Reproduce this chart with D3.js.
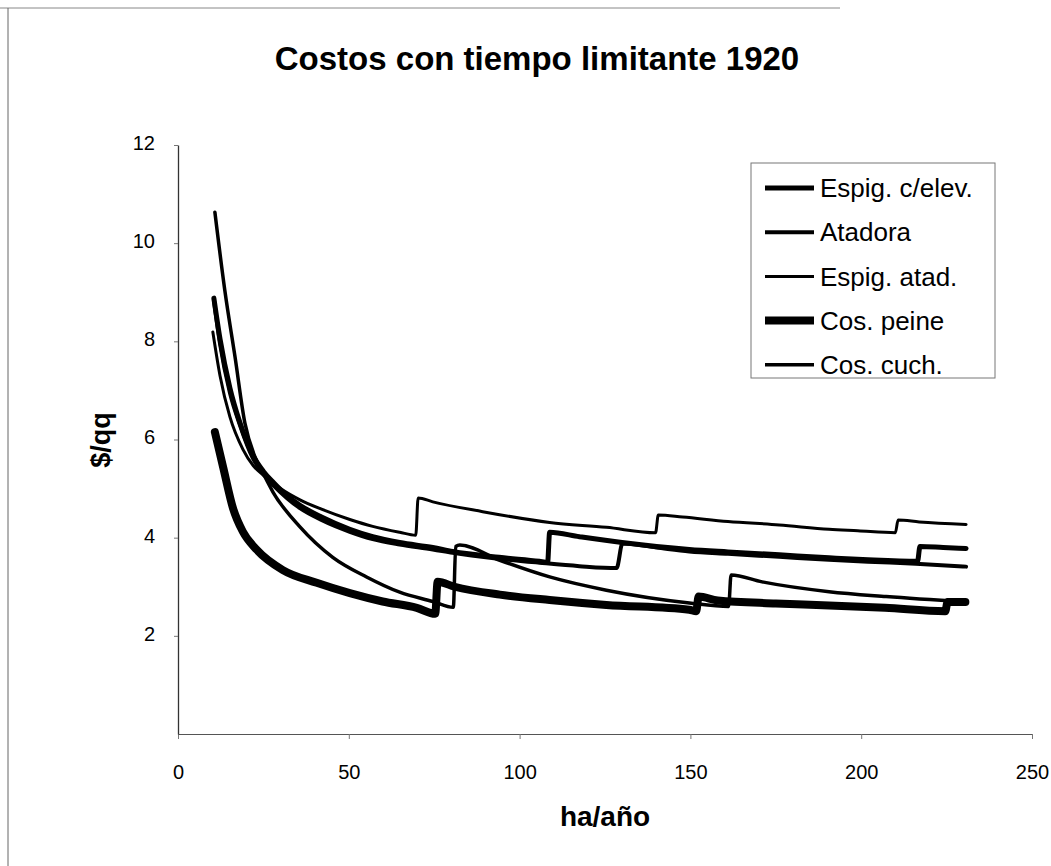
<!DOCTYPE html>
<html>
<head>
<meta charset="utf-8">
<script src="https://cdn.jsdelivr.net/npm/d3@7"></script>
<style>
  body { margin: 0; background: #fff; }
  text { font-family: "Liberation Sans", Arial, sans-serif; fill: #000; }
</style>
</head>
<body>
<script>
// values: [ha/año, $/qq]
const espigElev = [[10.5, 8.88], [12.3, 8.05], [15.2, 7.05], [18.1, 6.35], [21.9, 5.68], [25, 5.35], [28, 5.12],
  [32, 4.85], [35.7, 4.66], [42, 4.42], [50.3, 4.17], [57, 4.02], [64.9, 3.9], [74.6, 3.8], [80.4, 3.72],
  [94, 3.6], [105.8, 3.52], [108.2, 3.5], [108.8, 4.11], [117.5, 4.02], [130, 3.9], [149.7, 3.76], [161, 3.71],
  [176, 3.65], [190.6, 3.59], [202, 3.55], [216.5, 3.52], [217.2, 3.82], [224, 3.8], [230.7, 3.78]];
const atadora = [[10.5, 8.85], [12.3, 7.95], [15.2, 6.95], [18.1, 6.3], [21.9, 5.62], [25, 5.3], [28, 5.06],
  [32, 4.8], [35.7, 4.6], [42, 4.36], [50.3, 4.12], [57, 3.97], [64.9, 3.86], [74.6, 3.76], [80.4, 3.69],
  [94, 3.57], [105.8, 3.49], [117.5, 3.42], [128.4, 3.38], [130.1, 3.88], [140, 3.8], [149.7, 3.72], [161, 3.67],
  [176, 3.61], [190.6, 3.55], [202, 3.51], [216, 3.47], [230.7, 3.41]];
const espigAtad = [[10.2, 8.19], [12.3, 7.3], [15.2, 6.46], [19, 5.8], [22, 5.47], [25, 5.27], [30, 5.0],
  [35.7, 4.77], [42, 4.58], [50.3, 4.37], [57, 4.23], [64.9, 4.11], [69.6, 4.05], [70.3, 4.81], [74.6, 4.73],
  [89.2, 4.53], [108.8, 4.31], [125.4, 4.21], [139.8, 4.1], [140.6, 4.46], [147.7, 4.42], [161, 4.33],
  [176, 4.26], [190.6, 4.17], [199, 4.14], [210, 4.1], [210.8, 4.36], [217, 4.32], [230.7, 4.27]];
const cosPeine = [[10.8, 6.15], [13.2, 5.44], [16.1, 4.6], [19, 4.12], [23.1, 3.75], [30.7, 3.34], [40.6, 3.08],
  [50.3, 2.87], [59.9, 2.7], [69.9, 2.57], [75.3, 2.45], [76, 3.1], [81, 3.0], [94.2, 2.84], [108.8, 2.73],
  [125.4, 2.63], [149.7, 2.53], [151.7, 2.5], [152.4, 2.8], [158, 2.72], [175, 2.66], [190.6, 2.62],
  [207, 2.57], [224.6, 2.5], [225.3, 2.69], [230.5, 2.69]];
const cosCuch = [[10.8, 10.63], [13.7, 9.04], [16.7, 7.68], [19.6, 6.33], [22.5, 5.65], [25, 5.3], [27.8, 4.93],
  [35.7, 4.22], [45.3, 3.6], [55.2, 3.2], [64.9, 2.89], [74.6, 2.7], [80.6, 2.58], [81.3, 3.82], [82.5, 3.85],
  [94.2, 3.54], [108.8, 3.2], [125.4, 2.93], [149.7, 2.67], [161.2, 2.6], [161.9, 3.24], [171, 3.1],
  [190.6, 2.9], [207.3, 2.8], [230.7, 2.69]];

const seriesNames = ['Espig. c/elev.', 'Atadora', 'Espig. atad.', 'Cos. peine', 'Cos. cuch.'];
const xTicks = [0, 50, 100, 150, 200, 250];
const yTicks = [2, 4, 6, 8, 10, 12];

const series = [
  { name: seriesNames[0], values: espigElev, width: 5 },
  { name: seriesNames[1], values: atadora, width: 4 },
  { name: seriesNames[2], values: espigAtad, width: 3 },
  { name: seriesNames[3], values: cosPeine, width: 8 },
  { name: seriesNames[4], values: cosCuch, width: 3.5 }
];

const width = 1051, height = 866;
const svg = d3.select('body').append('svg')
  .attr('width', width)
  .attr('height', height);

// frame of the scanned page
svg.append('line').attr('x1', 0).attr('x2', 840).attr('y1', 8).attr('y2', 8)
  .attr('stroke', '#888').attr('stroke-width', 1);
svg.append('line').attr('x1', 8).attr('x2', 8).attr('y1', 8).attr('y2', height)
  .attr('stroke', '#666').attr('stroke-width', 1);

const x = d3.scaleLinear().domain([0, 250]).range([178, 1032]);
const y = d3.scaleLinear().domain([0, 12]).range([734, 145]);

svg.append('text')
  .attr('x', 537).attr('y', 70)
  .attr('text-anchor', 'middle')
  .style('font-size', '33px').style('font-weight', 'bold')
  .text('Costos con tiempo limitante 1920');

const xAxis = svg.append('g')
  .attr('transform', `translate(0, ${y(0)})`)
  .call(d3.axisBottom(x).tickValues(xTicks).tickSize(5).tickPadding(26).tickSizeOuter(0));
xAxis.select('.domain').attr('stroke', '#555');
xAxis.selectAll('line').attr('stroke', '#777');
xAxis.selectAll('text').style('font-size', '20px').style('font-family', '"Liberation Sans", Arial, sans-serif');

const yAxis = svg.append('g')
  .attr('transform', `translate(${x(0)}, 0)`)
  .call(d3.axisLeft(y).tickValues(yTicks).tickSize(4).tickPadding(19).tickSizeOuter(0));
yAxis.select('.domain').attr('stroke', '#333').attr('stroke-width', 1.3);
yAxis.selectAll('line').attr('stroke', '#777');
yAxis.selectAll('text')
  .attr('dy', '0.22em')
  .style('font-size', '20px').style('font-family', '"Liberation Sans", Arial, sans-serif');

svg.append('text')
  .attr('x', 605).attr('y', 826)
  .attr('text-anchor', 'middle')
  .style('font-size', '28px').style('font-weight', 'bold')
  .text('ha/año');

svg.append('text')
  .attr('transform', 'translate(110, 440) rotate(-90)')
  .attr('text-anchor', 'middle')
  .style('font-size', '27px').style('font-weight', 'bold')
  .text('$/qq');

const line = d3.line()
  .x(d => x(d[0]))
  .y(d => y(d[1]))
  .curve(d3.curveMonotoneX);

svg.append('g')
  .selectAll('path')
  .data(series)
  .join('path')
  .attr('d', d => line(d.values))
  .attr('fill', 'none')
  .attr('stroke', '#000')
  .attr('stroke-width', d => d.width)
  .attr('stroke-linejoin', 'round')
  .attr('stroke-linecap', 'round');

// legend
const legend = svg.append('g');
legend.append('rect')
  .attr('x', 751).attr('y', 163).attr('width', 244).attr('height', 215)
  .attr('fill', 'none').attr('stroke', '#777').attr('stroke-width', 1);

const item = legend.selectAll('g.item')
  .data(series)
  .join('g')
  .attr('class', 'item')
  .attr('transform', (d, i) => `translate(0, ${188 + i * 44.2})`);

item.append('line')
  .attr('x1', 765).attr('x2', 814)
  .attr('stroke', '#000')
  .attr('stroke-width', d => d.width);

item.append('text')
  .attr('x', 820).attr('dy', '0.35em')
  .style('font-size', '26px')
  .text(d => d.name);
</script>
</body>
</html>
